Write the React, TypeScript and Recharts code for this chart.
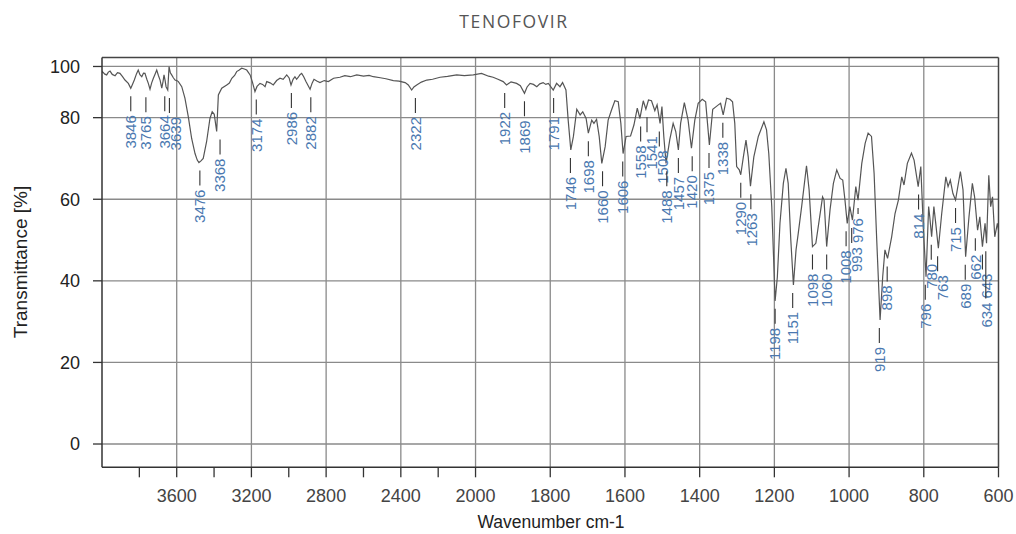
import React from 'react';
import { ComposedChart, Line, Scatter, XAxis, YAxis, ReferenceLine } from 'recharts';

// ---------- data (wavenumber cm-1, transmittance %) ----------
const spectrum4000to3000: [number, number][] = [
  [4000, 97.5], [3998, 98.0], [3985, 97.0], [3975, 96.7], [3966, 97.8], [3957, 98.2], [3945, 96.9],
  [3930, 96.4], [3917, 97.6], [3904, 97.3], [3890, 96.0], [3877, 94.7], [3859, 93.4], [3846, 91.5],
  [3837, 93.0], [3827, 94.7], [3815, 97.2], [3806, 98.6], [3797, 96.8], [3787, 96.0], [3778, 97.4],
  [3770, 97.3], [3760, 95.0], [3752, 93.4], [3743, 91.1], [3734, 93.6], [3725, 95.4], [3716, 97.0],
  [3707, 98.6], [3698, 96.5], [3689, 94.7], [3680, 91.5], [3673, 94.2], [3668, 96.7], [3662, 94.5],
  [3657, 92.1], [3648, 90.8], [3641, 99.9], [3634, 97.5], [3627, 96.7], [3618, 95.6], [3609, 94.7],
  [3600, 94.5], [3591, 94.1], [3573, 92.1], [3556, 87.6], [3538, 80.4], [3520, 74.9], [3502, 71.2],
  [3490, 69.6], [3481, 69.0], [3470, 69.4], [3458, 70.0], [3440, 74.1], [3422, 79.8], [3410, 82.3],
  [3399, 81.3], [3386, 76.6], [3377, 88.9], [3359, 91.5], [3332, 92.8], [3318, 93.5], [3305, 95.4],
  [3290, 96.5], [3279, 98.0], [3265, 98.6], [3252, 99.3], [3238, 99.0], [3225, 98.6], [3207, 96.7],
  [3195, 94.0], [3181, 90.2], [3170, 92.2], [3154, 93.4], [3140, 93.0], [3127, 92.1], [3118, 94.1],
  [3100, 93.6], [3083, 92.8], [3065, 94.5], [3047, 95.4], [3030, 95.0], [3011, 96.7],
];
const spectrum3000to2000: [number, number][] = [
  [2998, 95.5], [2988, 92.8], [2977, 95.0], [2967, 96.0], [2958, 95.0], [2949, 95.8], [2940, 96.8],
  [2931, 97.3], [2920, 96.0], [2908, 94.1], [2886, 91.1], [2875, 93.5], [2865, 95.0], [2850, 94.3],
  [2833, 93.7], [2810, 94.5], [2788, 94.1], [2760, 95.4], [2726, 95.8], [2700, 96.4], [2670, 96.0],
  [2636, 96.7], [2600, 96.2], [2570, 96.5], [2547, 96.0], [2510, 95.6], [2480, 95.2], [2440, 94.5],
  [2410, 94.3], [2377, 93.7], [2360, 92.8], [2342, 90.8], [2330, 92.0], [2315, 92.8], [2290, 93.9],
  [2261, 94.7], [2230, 95.0], [2190, 95.8], [2150, 96.1], [2101, 96.7], [2060, 96.4], [2012, 96.7],
];
const spectrum2000to1360: [number, number][] = [
  [1984, 97.3], [1965, 96.2], [1953, 95.8], [1940, 95.0], [1926, 94.1], [1917, 92.8], [1905, 94.0],
  [1890, 93.4], [1880, 92.5], [1869, 89.5], [1862, 92.0], [1854, 93.4], [1845, 93.0], [1836, 92.1],
  [1828, 93.2], [1819, 93.7], [1812, 93.0], [1805, 93.4], [1792, 90.8], [1783, 93.4], [1774, 92.1],
  [1767, 93.7], [1758, 90.8], [1752, 79.4], [1745, 72.1], [1738, 75.4], [1729, 83.3], [1720, 81.1],
  [1713, 82.3], [1704, 79.8], [1698, 76.2], [1689, 79.4], [1683, 78.6], [1676, 79.6], [1669, 75.4],
  [1662, 68.8], [1653, 72.9], [1645, 79.4], [1636, 83.0], [1627, 86.6], [1618, 86.2], [1611, 78.6],
  [1605, 71.2], [1597, 75.4], [1585, 75.5], [1576, 78.2], [1567, 83.7], [1560, 79.8], [1551, 86.6],
  [1544, 83.3], [1537, 86.9], [1529, 86.6], [1520, 82.7], [1514, 85.0], [1506, 78.6], [1501, 84.3],
  [1496, 75.4], [1490, 68.8], [1480, 74.6], [1471, 78.6], [1464, 76.6], [1457, 72.1], [1451, 78.6],
  [1441, 85.9], [1431, 79.4], [1422, 72.5], [1413, 79.4], [1404, 85.6], [1393, 87.2], [1384, 86.2],
  [1379, 78.6], [1374, 73.3], [1365, 83.3],
];
const spectrum1360to1000: [number, number][] = [
  [1350, 85.0], [1344, 85.6], [1337, 81.1], [1328, 87.6], [1319, 87.2], [1312, 86.2], [1306, 78.6],
  [1301, 68.0], [1294, 67.2], [1290, 66.0], [1283, 70.4], [1276, 74.5], [1270, 70.4], [1264, 63.2],
  [1255, 70.4], [1243, 75.4], [1228, 79.0], [1221, 77.0], [1215, 71.2], [1207, 58.2], [1198, 35.1],
  [1192, 41.0], [1185, 54.1], [1176, 63.9], [1169, 67.6], [1163, 63.9], [1156, 50.0], [1149, 39.0],
  [1142, 47.6], [1136, 51.7], [1127, 58.2], [1114, 68.2], [1107, 62.3], [1098, 48.4], [1089, 49.2],
  [1080, 54.9], [1071, 60.6], [1067, 59.8], [1060, 48.4], [1051, 57.4], [1042, 63.9], [1033, 67.2],
  [1024, 65.1], [1017, 64.7], [1011, 59.8], [1005, 54.1],
];
const spectrum1000to600: [number, number][] = [
  [998, 58.2], [991, 54.9], [982, 63.1], [976, 59.8], [966, 68.8], [957, 73.7], [949, 76.2],
  [940, 75.4], [933, 66.3], [926, 50.0], [917, 30.4], [910, 41.0], [904, 47.6], [897, 45.5],
  [886, 50.8], [877, 56.5], [868, 59.8], [859, 65.5], [853, 63.5], [844, 68.8], [833, 71.3],
  [826, 69.6], [815, 63.1], [808, 68.0], [801, 52.5], [794, 41.0], [787, 58.2], [784, 55.7],
  [779, 50.8], [773, 58.2], [768, 54.1], [761, 48.0], [752, 56.5], [741, 65.5], [735, 63.1],
  [729, 64.7], [722, 61.4], [715, 59.8], [702, 66.8], [695, 62.3], [688, 45.9], [679, 55.7],
  [670, 63.9], [664, 60.6], [656, 52.4], [650, 55.7], [643, 48.4], [636, 54.1], [632, 49.2],
  [626, 65.9], [621, 58.2], [616, 60.6], [610, 50.8], [603, 54.1], [600, 52.4],
];

const peakWavenumbers = [
  3846, 3765, 3664, 3639, 3476, 3368, 3174, 2986, 2882, 2322, 1922, 1869, 1791, 1746, 1698, 1660,
  1606, 1558, 1541, 1508, 1488, 1457, 1420, 1375, 1338, 1290, 1263, 1198, 1151, 1098, 1060, 1008,
  993, 976, 919, 898, 814, 796, 780, 763, 715, 689, 662, 643, 634,
];
const peakTransmittance = [
  91.5, 91.1, 91.5, 90.8, 69.0, 76.6, 90.2, 92.8, 91.1, 90.8, 92.8, 89.5, 90.8, 72.1, 76.2, 68.8,
  71.2, 79.8, 83.3, 78.6, 68.8, 72.1, 72.5, 73.3, 81.1, 66.0, 63.2, 35.1, 39.0, 48.4, 48.4, 54.1,
  54.9, 59.8, 30.4, 45.5, 63.1, 41.0, 50.8, 48.0, 59.8, 45.9, 52.4, 48.4, 49.2,
];

const xMajorTicks = [3600, 3200, 2800, 2400, 2000, 1800, 1600, 1400, 1200, 1000, 800, 600];
const xMinorTicks = [3800, 3400, 3000, 2600, 2200];
const yTicks = [0, 20, 40, 60, 80, 100];

// ---------- split-scale transforms ----------
const SPLIT_W = 2000;
const toU = (w: number) => (w > SPLIT_W ? SPLIT_W + (w - SPLIT_W) / 2 : w);
const fromU = (u: number) => (u > SPLIT_W ? SPLIT_W + (u - SPLIT_W) * 2 : u);
const SPLIT_T = 80;
const K_T = 0.6275;
const toV = (t: number) => (t > SPLIT_T ? SPLIT_T + (t - SPLIT_T) * K_T : t);
const fromV = (v: number) => (v > SPLIT_T ? SPLIT_T + (v - SPLIT_T) / K_T : v);

// ---------- layout ----------
const W = 1016;
const H = 534;
const M = { top: 57.5, right: 17.5, bottom: 0, left: 42 };
const Y_AXIS_W = 60;
const X_AXIS_H = 66.7;
const U_MIN = toU(600);
const U_MAX = toU(4000);
const V_MIN = -5.71;
const V_MAX = 94.75;
const PLOT_W = W - M.left - M.right - Y_AXIS_W;
const PLOT_H = H - M.top - M.bottom - X_AXIS_H;
const PX_U = PLOT_W / (U_MAX - U_MIN);
const PX_V = PLOT_H / (V_MAX - V_MIN);

const LABEL_FS = 15;
const DIGIT_W = LABEL_FS * 0.556;
const LINE_GAP = 8;
const LINE_LEN = 15;
const TEXT_GAP = 4;
const TEXT_OFF = LINE_GAP + LINE_LEN + TEXT_GAP;

const spectrumRows = [
  ...spectrum4000to3000,
  ...spectrum3000to2000,
  ...spectrum2000to1360,
  ...spectrum1360to1000,
  ...spectrum1000to600,
].map(([w, t]) => ({ u: toU(w), v: toV(t) }));

// label placement with simple collision avoidance (pixels derived from the scales above)
const peakRows = (() => {
  const placed: { tx: number; top: number; bottom: number }[] = [];
  return peakWavenumbers.map((wn, i) => {
    const u = toU(wn);
    const v = toV(peakTransmittance[i]);
    const x = (U_MAX - u) * PX_U;
    const y = (V_MAX - v) * PX_V;
    const len = String(wn).length * DIGIT_W;
    let tx = x;
    let top = y + TEXT_OFF;
    let lifted = false;
    for (let k = 0; k < 12; k++) {
      const hit = placed.find(
        (p) => Math.abs(p.tx - tx) < 11 && top < p.bottom + 3 && top + len > p.top - 3,
      );
      if (!hit) break;
      const lift = top + len - (hit.top - 4);
      if (!lifted && hit.top > top && lift <= 10) {
        top -= lift;
        lifted = true;
        continue;
      }
      const shift = hit.tx + 11 - tx;
      if (hit.tx <= tx && shift <= 8 && tx + shift - x <= 12) tx += shift;
      else top = hit.bottom + 4;
    }
    placed.push({ tx, top, bottom: top + len });
    return { u, v, wn, dx: tx - x, drop: top - (y + TEXT_OFF) };
  });
})();

const PeakLabel = (props: any) => {
  const { cx, cy, payload } = props;
  if (cx == null || cy == null || !payload) return null;
  const lineTop = cy + LINE_GAP;
  const textTop = cy + TEXT_OFF + payload.drop;
  return (
    <g>
      <line x1={cx} x2={cx} y1={lineTop} y2={textTop - TEXT_GAP} stroke="#333" strokeWidth={1.1} />
      <text
        transform={`translate(${cx + payload.dx},${textTop}) rotate(-90)`}
        textAnchor="end"
        dy="0.35em"
        fontSize={LABEL_FS}
        fill="#4a78b0"
        fontFamily="'Liberation Sans', Arial, sans-serif"
      >
        {payload.wn}
      </text>
    </g>
  );
};

const font = "'Liberation Sans', Arial, sans-serif";

export default function App() {
  const gridX = xMajorTicks.filter((w) => w !== 600);
  return (
    <div style={{ position: 'absolute', left: 0, top: 0, width: W, height: H, background: '#fff' }}>
      <ComposedChart width={W} height={H} margin={M}>
        <XAxis
          type="number"
          dataKey="u"
          domain={[U_MIN, U_MAX]}
          reversed
          allowDataOverflow
          ticks={[...xMajorTicks, ...xMinorTicks].map(toU).sort((a, b) => a - b)}
          interval={0}
          tickFormatter={(u: number) => {
            const w = Math.round(fromU(u));
            return xMinorTicks.includes(w) ? '' : String(w);
          }}
          height={X_AXIS_H}
          tickSize={10}
          tickMargin={12}
          axisLine={{ stroke: '#333', strokeWidth: 1.5 }}
          tickLine={{ stroke: '#333', strokeWidth: 1.3 }}
          tick={{ fontSize: 18, fill: '#444', fontFamily: font }}
        />
        <YAxis
          type="number"
          dataKey="v"
          domain={[V_MIN, V_MAX]}
          allowDataOverflow
          ticks={yTicks.map(toV)}
          interval={0}
          tickFormatter={(v: number) => String(Math.round(fromV(v)))}
          width={Y_AXIS_W}
          tickSize={9}
          tickMargin={13}
          axisLine={{ stroke: '#333', strokeWidth: 1.5 }}
          tickLine={{ stroke: '#333', strokeWidth: 1.3 }}
          tick={{ fontSize: 18, fill: '#222', fontFamily: font }}
        />
        {gridX.map((w) => (
          <ReferenceLine key={'gx' + w} x={toU(w)} stroke="#8a8a8a" strokeWidth={1.3} />
        ))}
        {yTicks.map((t) => (
          <ReferenceLine key={'gy' + t} y={toV(t)} stroke="#8a8a8a" strokeWidth={1.3} />
        ))}
        <ReferenceLine y={V_MAX} stroke="#444" strokeWidth={1.5} />
        <ReferenceLine x={U_MIN} stroke="#444" strokeWidth={1.5} />
        <Line
          data={spectrumRows}
          dataKey="v"
          type="linear"
          dot={false}
          stroke="#555"
          strokeWidth={1.2}
          isAnimationActive={false}
        />
        <Scatter data={peakRows} dataKey="v" shape={PeakLabel} isAnimationActive={false} />
      </ComposedChart>
      <svg
        width={W}
        height={H}
        style={{ position: 'absolute', left: 0, top: 0, pointerEvents: 'none' }}
      >
        <text
          x={514}
          y={28}
          textAnchor="middle"
          fontSize={17.5}
          letterSpacing={1.6}
          fill="#555"
          fontFamily="'Open Sans', 'Noto Sans', sans-serif"
        >
          TENOFOVIR
        </text>
        <text
          transform="translate(27,262) rotate(-90)"
          textAnchor="middle"
          fontSize={19}
          fill="#222"
          fontFamily={font}
        >
          Transmittance [%]
        </text>
        <text x={551} y={528} textAnchor="middle" fontSize={17.5} fill="#222" fontFamily={font}>
          Wavenumber cm-1
        </text>
      </svg>
    </div>
  );
}
